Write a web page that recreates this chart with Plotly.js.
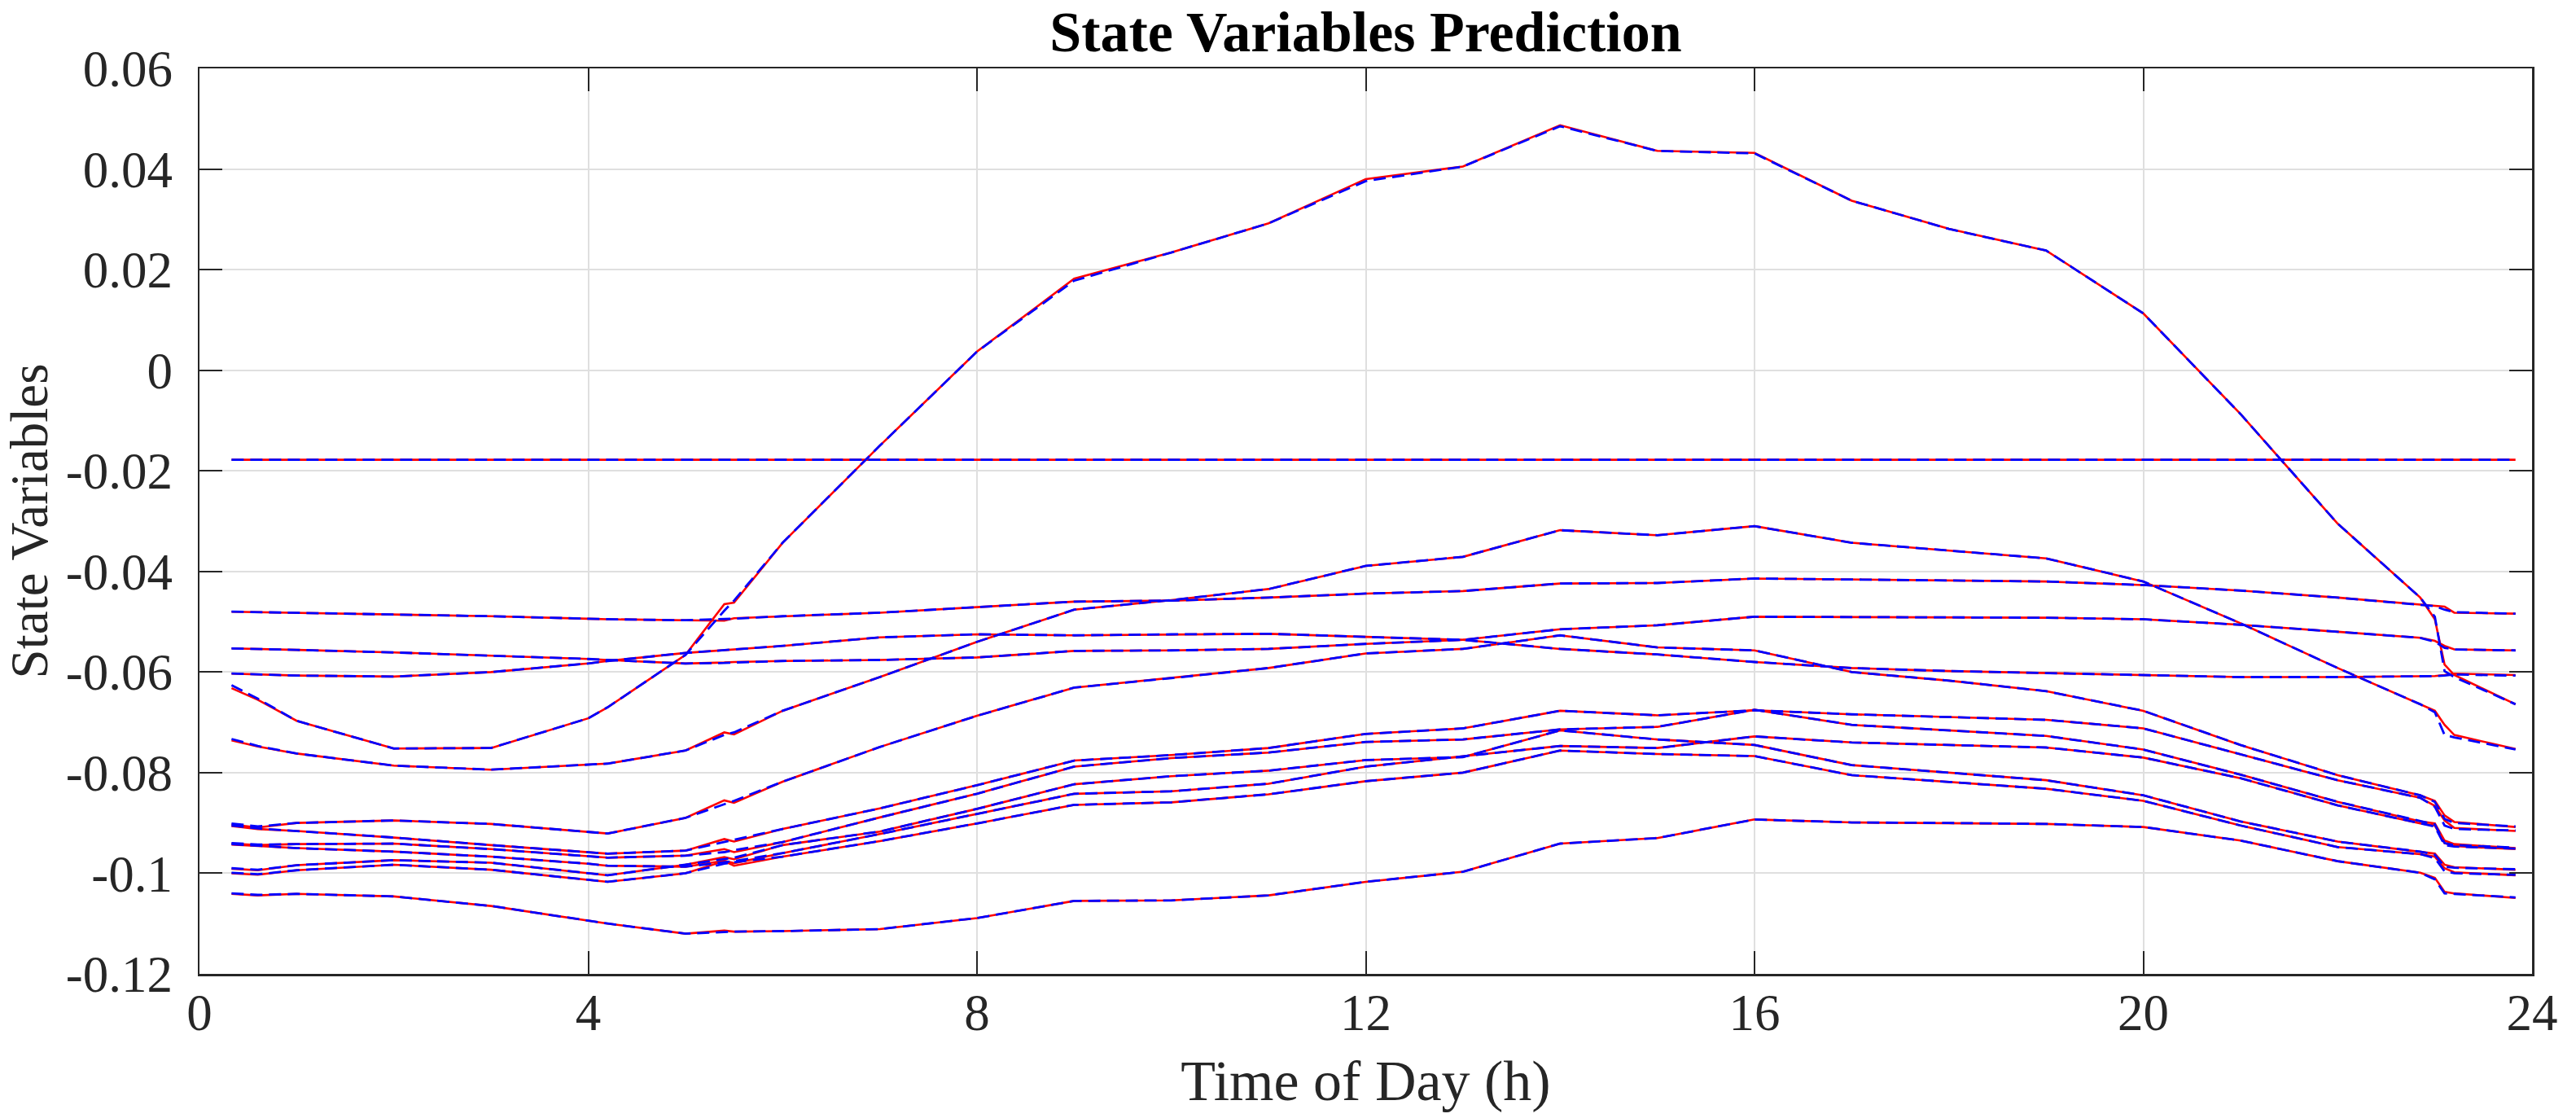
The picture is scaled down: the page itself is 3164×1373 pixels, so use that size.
<!DOCTYPE html>
<html>
<head>
<meta charset="utf-8">
<script src="https://cdn.plot.ly/plotly-3.0.1.min.js"></script>
<style>html,body{margin:0;padding:0;background:#fff;}#chart{width:3164px;height:1373px;}</style>
</head>
<body>
<div id="chart"></div>
<script>
// Time of day (h)
const hours = [0.33, 0.6, 1, 2, 3, 4, 4.2, 5, 5.4, 5.5, 6, 7, 8, 9, 10, 11, 12, 13, 14, 15, 16, 17, 18, 19, 20, 21, 22, 22.85, 23, 23.1, 23.2, 23.83];

// Actual state trajectories (red, solid)
const actA = [-0.0632, -0.0655, -0.0697, -0.0752, -0.0751, -0.0692, -0.0670, -0.0566, -0.0465, -0.0462, -0.0343, -0.0150, 0.0037, 0.0182, 0.0234, 0.0292, 0.0380, 0.0405, 0.0487, 0.0436, 0.0432, 0.0337, 0.0281, 0.0238, 0.0113, -0.0087, -0.0305, -0.0452, -0.0495, -0.0585, -0.0606, -0.0664];
const actFlat = [-0.0178, -0.0178, -0.0178, -0.0178, -0.0178, -0.0178, -0.0178, -0.0178, -0.0178, -0.0178, -0.0178, -0.0178, -0.0178, -0.0178, -0.0178, -0.0178, -0.0178, -0.0178, -0.0178, -0.0178, -0.0178, -0.0178, -0.0178, -0.0178, -0.0178, -0.0178, -0.0178, -0.0178, -0.0178, -0.0178, -0.0178, -0.0178];
const actB = [-0.0480, -0.0481, -0.0482, -0.0485, -0.0489, -0.0494, -0.0495, -0.0497, -0.0498, -0.0493, -0.0489, -0.0482, -0.0471, -0.0460, -0.0458, -0.0452, -0.0444, -0.0439, -0.0424, -0.0423, -0.0414, -0.0416, -0.0418, -0.0420, -0.0427, -0.0438, -0.0452, -0.0466, -0.0469, -0.0470, -0.0482, -0.0484];
const actC = [-0.0553, -0.0554, -0.0556, -0.0561, -0.0567, -0.0574, -0.0576, -0.0583, -0.0581, -0.0580, -0.0578, -0.0576, -0.0571, -0.0558, -0.0557, -0.0554, -0.0544, -0.0536, -0.0515, -0.0507, -0.0490, -0.0491, -0.0491, -0.0492, -0.0495, -0.0506, -0.0520, -0.0532, -0.0538, -0.0548, -0.0555, -0.0557];
const actD = [-0.0603, -0.0605, -0.0607, -0.0609, -0.0600, -0.0583, -0.0578, -0.0562, -0.0556, -0.0555, -0.0548, -0.0531, -0.0525, -0.0527, -0.0525, -0.0524, -0.0530, -0.0536, -0.0554, -0.0565, -0.0580, -0.0592, -0.0598, -0.0602, -0.0606, -0.0610, -0.0610, -0.0609, -0.0608, -0.0606, -0.0603, -0.0606];
const actE = [-0.0736, -0.0748, -0.0762, -0.0786, -0.0794, -0.0785, -0.0782, -0.0756, -0.0720, -0.0724, -0.0677, -0.0610, -0.0540, -0.0476, -0.0457, -0.0435, -0.0389, -0.0371, -0.0318, -0.0328, -0.0310, -0.0343, -0.0359, -0.0374, -0.0420, -0.0503, -0.0592, -0.0664, -0.0677, -0.0705, -0.0725, -0.0753];
const actF = [-0.0903, -0.0909, -0.0900, -0.0895, -0.0902, -0.0918, -0.0921, -0.0890, -0.0855, -0.0860, -0.0818, -0.0749, -0.0687, -0.0631, -0.0612, -0.0592, -0.0563, -0.0554, -0.0527, -0.0551, -0.0557, -0.0600, -0.0617, -0.0638, -0.0677, -0.0745, -0.0805, -0.0845, -0.0856, -0.0885, -0.0898, -0.0908];
const actG = [-0.0906, -0.0912, -0.0916, -0.0929, -0.0944, -0.0958, -0.0961, -0.0955, -0.0932, -0.0937, -0.0912, -0.0871, -0.0825, -0.0776, -0.0765, -0.0751, -0.0723, -0.0712, -0.0677, -0.0686, -0.0676, -0.0684, -0.0690, -0.0695, -0.0712, -0.0764, -0.0815, -0.0850, -0.0866, -0.0895, -0.0910, -0.0916];
const actH = [-0.0941, -0.0944, -0.0942, -0.0941, -0.0952, -0.0966, -0.0969, -0.0965, -0.0952, -0.0958, -0.0938, -0.0889, -0.0842, -0.0788, -0.0771, -0.0760, -0.0739, -0.0734, -0.0714, -0.0709, -0.0675, -0.0705, -0.0716, -0.0727, -0.0754, -0.0804, -0.0858, -0.0897, -0.0901, -0.0935, -0.0942, -0.0950];
const actI = [-0.0943, -0.0946, -0.0950, -0.0957, -0.0967, -0.0981, -0.0985, -0.0987, -0.0975, -0.0980, -0.0960, -0.0922, -0.0882, -0.0842, -0.0837, -0.0822, -0.0788, -0.0768, -0.0747, -0.0751, -0.0728, -0.0740, -0.0745, -0.0750, -0.0770, -0.0811, -0.0865, -0.0901, -0.0905, -0.0940, -0.0946, -0.0952];
const actJ = [-0.0991, -0.0994, -0.0984, -0.0974, -0.0979, -0.1000, -0.1004, -0.0983, -0.0968, -0.0972, -0.0944, -0.0917, -0.0872, -0.0823, -0.0807, -0.0796, -0.0775, -0.0769, -0.0716, -0.0734, -0.0745, -0.0785, -0.0800, -0.0815, -0.0845, -0.0897, -0.0937, -0.0957, -0.0961, -0.0983, -0.0988, -0.0993];
const actK = [-0.1000, -0.1003, -0.0994, -0.0983, -0.0993, -0.1014, -0.1017, -0.1000, -0.0976, -0.0985, -0.0967, -0.0936, -0.0901, -0.0864, -0.0859, -0.0843, -0.0817, -0.0800, -0.0756, -0.0763, -0.0767, -0.0805, -0.0819, -0.0832, -0.0856, -0.0905, -0.0948, -0.0962, -0.0967, -0.0990, -0.0998, -0.1004];
const actL = [-0.1041, -0.1044, -0.1041, -0.1046, -0.1065, -0.1095, -0.1100, -0.1120, -0.1114, -0.1116, -0.1115, -0.1111, -0.1089, -0.1055, -0.1054, -0.1044, -0.1017, -0.0997, -0.0941, -0.0930, -0.0893, -0.0899, -0.0900, -0.0902, -0.0908, -0.0935, -0.0976, -0.0999, -0.1009, -0.1037, -0.1040, -0.1049];

// Predicted state trajectories (blue, dashed)
const predA = [-0.0626, -0.0653, -0.0697, -0.0752, -0.0751, -0.0692, -0.0670, -0.0566, -0.0478, -0.0458, -0.0343, -0.0150, 0.0037, 0.0178, 0.0234, 0.0292, 0.0376, 0.0405, 0.0485, 0.0436, 0.0431, 0.0337, 0.0281, 0.0238, 0.0113, -0.0087, -0.0305, -0.0452, -0.0490, -0.0598, -0.0610, -0.0664];
const predFlat = [-0.0178, -0.0178, -0.0178, -0.0178, -0.0178, -0.0178, -0.0178, -0.0178, -0.0178, -0.0178, -0.0178, -0.0178, -0.0178, -0.0178, -0.0178, -0.0178, -0.0178, -0.0178, -0.0178, -0.0178, -0.0178, -0.0178, -0.0178, -0.0178, -0.0178, -0.0178, -0.0178, -0.0178, -0.0178, -0.0178, -0.0178, -0.0178];
const predB = [-0.0480, -0.0481, -0.0482, -0.0485, -0.0489, -0.0494, -0.0495, -0.0497, -0.0495, -0.0494, -0.0489, -0.0482, -0.0471, -0.0460, -0.0458, -0.0452, -0.0444, -0.0439, -0.0424, -0.0423, -0.0414, -0.0416, -0.0418, -0.0420, -0.0427, -0.0438, -0.0452, -0.0466, -0.0469, -0.0476, -0.0481, -0.0484];
const predC = [-0.0553, -0.0554, -0.0556, -0.0561, -0.0567, -0.0574, -0.0576, -0.0583, -0.0582, -0.0581, -0.0578, -0.0576, -0.0571, -0.0558, -0.0557, -0.0554, -0.0544, -0.0536, -0.0515, -0.0507, -0.0490, -0.0491, -0.0491, -0.0492, -0.0495, -0.0506, -0.0520, -0.0532, -0.0540, -0.0552, -0.0555, -0.0557];
const predD = [-0.0603, -0.0605, -0.0607, -0.0609, -0.0600, -0.0583, -0.0578, -0.0562, -0.0557, -0.0555, -0.0548, -0.0531, -0.0525, -0.0527, -0.0525, -0.0524, -0.0530, -0.0536, -0.0554, -0.0565, -0.0580, -0.0592, -0.0598, -0.0602, -0.0606, -0.0610, -0.0610, -0.0609, -0.0608, -0.0607, -0.0605, -0.0607];
const predE = [-0.0733, -0.0747, -0.0762, -0.0786, -0.0794, -0.0785, -0.0782, -0.0756, -0.0725, -0.0720, -0.0677, -0.0610, -0.0540, -0.0476, -0.0457, -0.0435, -0.0389, -0.0371, -0.0318, -0.0328, -0.0310, -0.0343, -0.0359, -0.0374, -0.0420, -0.0503, -0.0592, -0.0664, -0.0680, -0.0725, -0.0730, -0.0754];
const predF = [-0.0901, -0.0907, -0.0900, -0.0895, -0.0902, -0.0918, -0.0921, -0.0890, -0.0862, -0.0856, -0.0818, -0.0749, -0.0687, -0.0631, -0.0612, -0.0592, -0.0563, -0.0554, -0.0527, -0.0551, -0.0557, -0.0600, -0.0617, -0.0638, -0.0677, -0.0745, -0.0805, -0.0845, -0.0858, -0.0892, -0.0900, -0.0907];
const predG = [-0.0905, -0.0911, -0.0916, -0.0929, -0.0944, -0.0958, -0.0961, -0.0955, -0.0938, -0.0933, -0.0912, -0.0871, -0.0825, -0.0776, -0.0765, -0.0751, -0.0723, -0.0712, -0.0677, -0.0686, -0.0676, -0.0684, -0.0690, -0.0695, -0.0712, -0.0764, -0.0815, -0.0850, -0.0868, -0.0905, -0.0912, -0.0915];
const predH = [-0.0940, -0.0943, -0.0942, -0.0941, -0.0952, -0.0966, -0.0969, -0.0965, -0.0958, -0.0954, -0.0938, -0.0889, -0.0842, -0.0788, -0.0771, -0.0760, -0.0739, -0.0734, -0.0714, -0.0709, -0.0675, -0.0705, -0.0716, -0.0727, -0.0754, -0.0804, -0.0858, -0.0897, -0.0903, -0.0940, -0.0944, -0.0949];
const predI = [-0.0942, -0.0945, -0.0950, -0.0957, -0.0967, -0.0981, -0.0985, -0.0987, -0.0978, -0.0976, -0.0960, -0.0922, -0.0882, -0.0842, -0.0837, -0.0822, -0.0788, -0.0768, -0.0747, -0.0751, -0.0728, -0.0740, -0.0745, -0.0750, -0.0770, -0.0811, -0.0865, -0.0901, -0.0907, -0.0944, -0.0947, -0.0951];
const predJ = [-0.0990, -0.0993, -0.0984, -0.0974, -0.0979, -0.1000, -0.1004, -0.0983, -0.0972, -0.0969, -0.0944, -0.0917, -0.0872, -0.0823, -0.0807, -0.0796, -0.0775, -0.0769, -0.0716, -0.0734, -0.0745, -0.0785, -0.0800, -0.0815, -0.0845, -0.0897, -0.0937, -0.0957, -0.0963, -0.0987, -0.0989, -0.0992];
const predK = [-0.0999, -0.1002, -0.0994, -0.0983, -0.0993, -0.1014, -0.1017, -0.1000, -0.0981, -0.0978, -0.0967, -0.0936, -0.0901, -0.0864, -0.0859, -0.0843, -0.0817, -0.0800, -0.0756, -0.0763, -0.0767, -0.0805, -0.0819, -0.0832, -0.0856, -0.0905, -0.0948, -0.0962, -0.0970, -0.0996, -0.1000, -0.1003];
const predL = [-0.1040, -0.1043, -0.1041, -0.1046, -0.1065, -0.1095, -0.1100, -0.1120, -0.1117, -0.1116, -0.1115, -0.1111, -0.1089, -0.1055, -0.1054, -0.1044, -0.1017, -0.0997, -0.0941, -0.0930, -0.0893, -0.0899, -0.0900, -0.0902, -0.0908, -0.0935, -0.0976, -0.0999, -0.1012, -0.1040, -0.1041, -0.1048];

// Axis ticks
const xTickVals = [0, 4, 8, 12, 16, 20, 24];
const yTickVals = [-0.12, -0.1, -0.08, -0.06, -0.04, -0.02, 0, 0.02, 0.04, 0.06];
const yTickText = ['-0.12', '-0.1', '-0.08', '-0.06', '-0.04', '-0.02', '0', '0.02', '0.04', '0.06'];

const actualSeries = [actA, actFlat, actB, actC, actD, actE, actF, actG, actH, actI, actJ, actK, actL];
const predSeries = [predA, predFlat, predB, predC, predD, predE, predF, predG, predH, predI, predJ, predK, predL];

const traces = [];
actualSeries.forEach(function (ys) {
  traces.push({x: hours, y: ys, type: 'scatter', mode: 'lines', showlegend: false,
    line: {color: '#ff0000', width: 2.6}, hoverinfo: 'skip'});
});
predSeries.forEach(function (ys) {
  traces.push({x: hours, y: ys, type: 'scatter', mode: 'lines', showlegend: false,
    line: {color: '#0000ff', width: 2.8, dash: '15px,8px'}, hoverinfo: 'skip'});
});

const serif = '"Liberation Serif", "Times New Roman", Times, serif';
const axisCommon = {
  showline: true, linecolor: '#262626', linewidth: 2.5, mirror: 'ticks',
  ticks: 'inside', ticklen: 28, tickwidth: 2, tickcolor: '#262626',
  showgrid: true, gridcolor: '#dfdfdf', gridwidth: 2, zeroline: false,
  tickfont: {family: serif, size: 63, color: '#262626'}, automargin: false
};

const layout = {
  width: 3164, height: 1373,
  paper_bgcolor: '#ffffff', plot_bgcolor: '#ffffff',
  margin: {l: 245, r: 54, t: 84, b: 177},
  showlegend: false,
  title: {text: '<b>State Variables Prediction</b>', x: 0.5, xref: 'paper', xanchor: 'center',
    y: 0.972, yref: 'container', yanchor: 'middle',
    font: {family: serif, size: 70, color: '#000000'}},
  xaxis: Object.assign({}, axisCommon, {
    range: [0, 24], tickmode: 'array', tickvals: xTickVals, ticklabelstandoff: -9,
    title: {text: 'Time of Day (h)', standoff: 24, font: {family: serif, size: 70, color: '#262626'}}
  }),
  yaxis: Object.assign({}, axisCommon, {
    range: [-0.12, 0.06], tickmode: 'array', tickvals: yTickVals, ticktext: yTickText, ticklabelstandoff: 18,
    title: {text: 'State Variables', standoff: 8, font: {family: serif, size: 65, color: '#262626'}}
  })
};

Plotly.newPlot('chart', traces, layout, {staticPlot: true, displayModeBar: false});
</script>
</body>
</html>
